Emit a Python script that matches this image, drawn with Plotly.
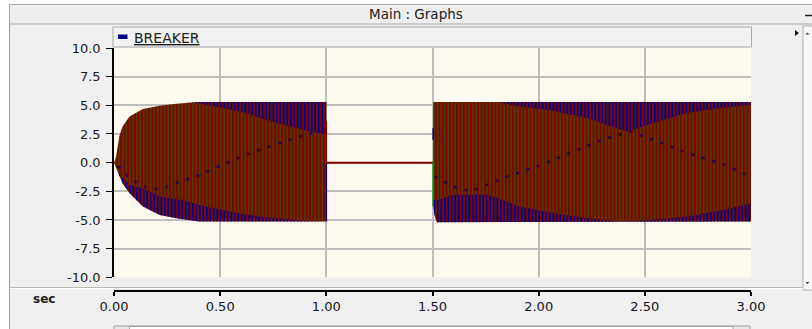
import plotly.graph_objects as go

# ---------------- data ----------------
X_TICKS = [0.0, 0.5, 1.0, 1.5, 2.0, 2.5, 3.0]
X_TICK_TEXT = ["0.00", "0.50", "1.00", "1.50", "2.00", "2.50", "3.00"]
Y_TICKS = [-10.0, -7.5, -5.0, -2.5, 0.0, 2.5, 5.0, 7.5, 10.0]
Y_TICK_TEXT = ["-10.0", "-7.5", "-5.0", "-2.5", "0.0", "2.5", "5.0", "7.5", "10.0"]

# segment 1 (0 - 1.0 s): outer envelope of the three-phase current
S1_T = [0.0, 0.01, 0.025, 0.04, 0.073, 0.136, 0.215, 0.293, 0.40, 1.0]
S1_TOP = [0.0, 0.53, 2.3, 3.15, 4.03, 4.67, 4.96, 5.13, 5.28, 5.30]
S1_BOT = [0.0, -0.34, -1.1, -1.79, -2.66, -3.83, -4.56, -4.85, -5.14, -5.14]
# blue-phase region at the top (lower edge) and at the bottom (upper edge)
TB1_T = [0.33, 0.388, 0.466, 0.545, 0.62, 0.70, 0.78, 0.86, 0.92, 0.986, 1.0]
TB1_V = [5.30, 5.20, 4.96, 4.61, 4.32, 3.83, 3.45, 3.01, 2.72, 2.49, 2.49]
BB1_T = [0.0, 0.015, 0.04, 0.073, 0.136, 0.215, 0.30, 0.45, 0.61, 0.77, 0.92, 1.0]
BB1_V = [0.0, -0.6, -1.35, -1.95, -2.25, -2.95, -3.2, -3.9, -4.5, -4.88, -5.08, -5.14]
# beat ridge (dotted) inside segment 1
MC1_T = [0.02, 0.073, 0.136, 0.19, 0.25, 0.31, 0.40, 0.51, 0.62, 0.73, 0.83, 0.92, 0.985]
MC1_V = [-0.3, -1.35, -2.05, -2.3, -2.1, -1.7, -1.1, -0.2, 0.68, 1.4, 2.0, 2.55, 2.72]

# breaker open (1.0 - 1.5 s)
OPEN_T = [1.0, 1.503]
OPEN_V = [0.0, 0.0]
OPEN_RED_V = [3.6, 0.0]
OPEN_BLUE_V = [0.0, -5.14]

# segment 2 (1.5 - 3.0 s)
S2_T = [1.503, 1.51, 1.52, 3.0]
S2_TOP = [5.30, 5.30, 5.30, 5.30]
S2_BOT = [-3.6, -4.6, -5.2, -5.14]
TB2_T = [1.80, 1.88, 1.91, 2.04, 2.23, 2.34, 2.42, 2.54, 2.70, 2.85, 3.0]
TB2_V = [5.30, 5.05, 4.90, 4.61, 3.89, 3.15, 2.72, 3.45, 4.32, 4.76, 5.05]
BB2_T = [1.503, 1.52, 1.60, 1.755, 1.83, 1.91, 2.07, 2.23, 2.38, 2.54, 2.70, 2.87, 3.0]
BB2_V = [-3.25, -3.25, -2.81, -2.81, -3.25, -3.83, -4.41, -4.85, -5.14, -5.0, -4.7, -4.12, -3.54]
MC2_T = [1.51, 1.60, 1.68, 1.83, 1.99, 2.15, 2.30, 2.43, 2.54, 2.70, 2.86, 3.0]
MC2_V = [-1.21, -2.09, -2.52, -1.35, -0.34, 0.83, 1.99, 2.72, 1.99, 0.83, -0.04, -1.21]
RECLOSE_T = [1.503, 1.503]
RECLOSE_BLUE_V = [3.0, 2.0]
RECLOSE_GREEN_V = [0.1, -3.83]

SERIES_NAME = "BREAKER"

# ---------------- styling / geometry ----------------
W, H = 812, 329
L, R, T, B = 114, 61, 48, 38
PW, PH = W - L - R, H - T - B
FONT = "DejaVu Sans"
RED, GREEN, NAVY = "#850000", "#009000", "#000088"


def px(x):
    return (x - L) / PW


def py(y):
    return (H - B - y) / PH


fig = go.Figure()


def band(xs, ys, fg, bg, sol):
    fig.add_trace(go.Scatter(
        x=xs, y=ys, mode="lines", fill="toself",
        line=dict(width=0, color=bg if bg else fg),
        fillcolor=bg if bg else "rgba(0,0,0,0)",
        fillpattern=dict(shape="|", size=3.5, solidity=sol, fgcolor=fg,
                         bgcolor=bg if bg else "rgba(0,0,0,0)", fillmode="replace"),
        hoverinfo="skip", showlegend=False))


# base red/green bands
band(S1_T + S1_T[::-1], S1_TOP + S1_BOT[::-1], GREEN, RED, 0.22)
band(S2_T + S2_T[::-1], S2_TOP + S2_BOT[::-1], GREEN, RED, 0.22)
# blue regions
band(TB1_T + [TB1_T[-1], TB1_T[0]], TB1_V + [S1_TOP[-1], S1_TOP[-1]], NAVY, None, 0.5)
band(BB1_T + S1_T[::-1], BB1_V + S1_BOT[::-1], NAVY, None, 0.5)
band(TB2_T + [TB2_T[-1], TB2_T[0]], TB2_V + [S2_TOP[-1], S2_TOP[-1]], NAVY, None, 0.5)
band(BB2_T + S2_T[::-1], BB2_V + S2_BOT[::-1], NAVY, None, 0.5)

# dotted beat ridges
for xs, ys in ((MC1_T, MC1_V), (MC2_T, MC2_V)):
    fig.add_trace(go.Scatter(x=xs, y=ys, mode="lines",
                             line=dict(color="#28004e", width=2.5, dash="3px,8px"),
                             hoverinfo="skip", showlegend=False))

# open breaker segment and switching edges
fig.add_trace(go.Scatter(x=[OPEN_T[0], OPEN_T[0]], y=OPEN_BLUE_V, mode="lines",
                         line=dict(color=NAVY, width=1.5), hoverinfo="skip", showlegend=False))
fig.add_trace(go.Scatter(x=[OPEN_T[0], OPEN_T[0]], y=OPEN_RED_V, mode="lines",
                         line=dict(color=RED, width=1.5), hoverinfo="skip", showlegend=False))
fig.add_trace(go.Scatter(x=OPEN_T, y=OPEN_V, mode="lines",
                         line=dict(color=RED, width=2), hoverinfo="skip", showlegend=False))
fig.add_trace(go.Scatter(x=RECLOSE_T, y=RECLOSE_BLUE_V, mode="lines",
                         line=dict(color=NAVY, width=1.5), hoverinfo="skip", showlegend=False))
fig.add_trace(go.Scatter(x=RECLOSE_T, y=RECLOSE_GREEN_V, mode="lines",
                         line=dict(color=GREEN, width=1.5), hoverinfo="skip", showlegend=False))

shapes = [
    # cream plot area
    dict(type="rect", xref="x domain", yref="y domain", x0=0, x1=1, y0=0, y1=1,
         fillcolor="#FFFAEF", line=dict(width=0), layer="below"),
    # white outer strips
    dict(type="rect", xref="paper", yref="paper", x0=px(0), x1=px(W), y0=py(4.5), y1=py(0),
         fillcolor="white", line=dict(width=0)),
    dict(type="rect", xref="paper", yref="paper", x0=px(0), x1=px(9.5), y0=py(H), y1=py(0),
         fillcolor="white", line=dict(width=0)),
    dict(type="line", xref="paper", yref="paper", x0=px(9.5), x1=px(9.5), y0=py(H), y1=py(4.5),
         line=dict(color="#A0A0A0", width=1)),
    # title bar
    dict(type="rect", xref="paper", yref="paper", x0=px(9.5), x1=px(W + 2), y0=py(24), y1=py(4.5),
         fillcolor="#EEEEEE", line=dict(color="#A8A8A8", width=1)),
    dict(type="line", xref="paper", yref="paper", x0=px(805), x1=px(812), y0=py(15.5), y1=py(15.5),
         line=dict(color="#202020", width=1.5)),
    # legend bar
    dict(type="rect", xref="paper", yref="paper", x0=px(113), x1=px(751.5), y0=py(47), y1=py(27),
         fillcolor="#F2F2F2", line=dict(color="#A8A8A8", width=1)),
    dict(type="rect", xref="paper", yref="paper", x0=px(118), x1=px(127.5), y0=py(39), y1=py(34.5),
         fillcolor=NAVY, line=dict(width=0)),
    # right scrollbar
    dict(type="rect", xref="paper", yref="paper", x0=px(803), x1=px(W + 2), y0=py(290), y1=py(26),
         fillcolor="#F8F8F8", line=dict(color="#B0B0B0", width=1)),
    dict(type="path", xref="paper", yref="paper",
         path=f"M{px(795)},{py(30)} L{px(795)},{py(36)} L{px(799)},{py(33)} Z",
         fillcolor="#101010", line=dict(width=0)),
    dict(type="path", xref="paper", yref="paper",
         path=f"M{px(805.5)},{py(34.5)} L{px(809.5)},{py(34.5)} L{px(807.5)},{py(32.5)} Z",
         fillcolor="#303030", line=dict(width=0)),
    dict(type="path", xref="paper", yref="paper",
         path=f"M{px(805.5)},{py(282)} L{px(809.5)},{py(282)} L{px(807.5)},{py(284)} Z",
         fillcolor="#303030", line=dict(width=0)),
    # separator above the time axis
    dict(type="line", xref="paper", yref="paper", x0=px(9.5), x1=px(803), y0=py(287.5), y1=py(287.5),
         line=dict(color="#B8B8B8", width=1)),
    dict(type="line", xref="paper", yref="paper", x0=px(9.5), x1=px(803), y0=py(288.5), y1=py(288.5),
         line=dict(color="#FFFFFF", width=1)),
    # bottom scrollbar
    dict(type="rect", xref="paper", yref="paper", x0=px(114), x1=px(750), y0=py(332), y1=py(326),
         fillcolor="#E8E8E8", line=dict(color="#A0A0A0", width=1)),
    dict(type="rect", xref="paper", yref="paper", x0=px(129.5), x1=px(733), y0=py(332), y1=py(326.5),
         fillcolor="#FFFFFF", line=dict(color="#A0A0A0", width=1)),
]

annotations = [
    dict(text="Main : Graphs", xref="paper", yref="paper", x=px(416), y=py(14.5),
         xanchor="center", yanchor="middle", showarrow=False,
         font=dict(family=FONT, size=13.5, color="#202020")),
    dict(text="<u>" + SERIES_NAME + "</u>", xref="paper", yref="paper", x=px(131.5), y=py(37.5),
         xanchor="left", yanchor="middle", showarrow=False,
         font=dict(family=FONT, size=14, color="#202020")),
    dict(text="<b>sec</b>", xref="paper", yref="paper", x=px(44), y=py(299),
         xanchor="center", yanchor="middle", showarrow=False,
         font=dict(family=FONT, size=12, color="#202020")),
]

fig.update_layout(
    width=W, height=H, autosize=False,
    margin=dict(l=L, r=R, t=T, b=B, pad=0),
    paper_bgcolor="#F0F0F0", plot_bgcolor="#F0F0F0",
    showlegend=False, hovermode=False,
    shapes=shapes, annotations=annotations,
    xaxis=dict(range=[0, 3], domain=[0, 1], anchor="free", position=0,
               tickvals=X_TICKS, ticktext=X_TICK_TEXT,
               showgrid=True, gridcolor="#BEBEBE", gridwidth=1.5,
               ticks="outside", ticklen=4, tickwidth=1.5, tickcolor="#000000",
               showline=True, linecolor="#000000", linewidth=1.5,
               zeroline=False, automargin=False, fixedrange=True,
               tickfont=dict(family=FONT, size=13, color="#141428")),
    yaxis=dict(range=[-10, 10], domain=[py(277.3), 1.0], anchor="x",
               tickvals=Y_TICKS, ticktext=Y_TICK_TEXT,
               showgrid=True, gridcolor="#BEBEBE", gridwidth=1.5,
               ticks="outside", ticklen=6, tickwidth=1.2, tickcolor="#000000",
               showline=True, linecolor="#000000", linewidth=1.5,
               zeroline=False, automargin=False, fixedrange=True, ticklabelstandoff=3,
               tickfont=dict(family=FONT, size=13, color="#1a1a1a")),
)

fig.write_html("out.html", config={"displayModeBar": False})
